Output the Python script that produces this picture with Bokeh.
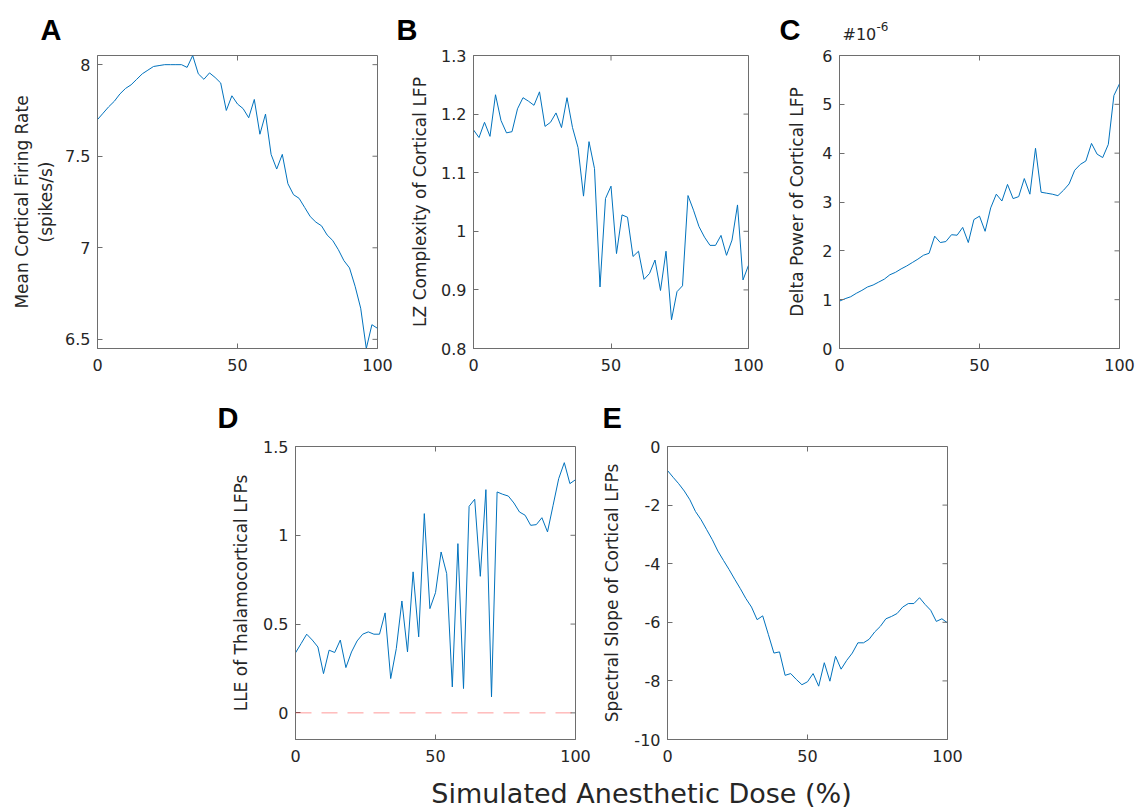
import math
from bokeh.plotting import figure
from bokeh.layouts import column, row
from bokeh.models import Range1d, FixedTicker, Label, CustomJSTickFormatter, Span
from bokeh.embed import file_html
from bokeh.resources import INLINE

# ---------------- data ----------------
dose = [0, 2, 4, 6, 8, 10, 12, 14, 16, 18, 20, 22, 24, 26, 28, 30, 32, 34, 36, 38,
        40, 42, 44, 46, 48, 50, 52, 54, 56, 58, 60, 62, 64, 66, 68, 70, 72, 74, 76, 78,
        80, 82, 84, 86, 88, 90, 92, 94, 96, 98, 100]

firing_rate = [7.70, 7.735, 7.77, 7.80, 7.84, 7.87, 7.89, 7.92, 7.95, 7.97,
               7.99, 7.995, 8.00, 8.00, 8.00, 8.00, 7.985, 8.05, 7.95, 7.92,
               7.955, 7.93, 7.90, 7.75, 7.83, 7.785, 7.76, 7.71, 7.81, 7.62,
               7.73, 7.51, 7.43, 7.51, 7.35, 7.29, 7.27, 7.22, 7.17, 7.14,
               7.12, 7.07, 7.04, 6.99, 6.93, 6.89, 6.79, 6.67, 6.45, 6.58, 6.56]

lz_complexity = [1.173, 1.160, 1.186, 1.162, 1.233, 1.189, 1.168, 1.170, 1.209, 1.228,
                 1.222, 1.215, 1.238, 1.179, 1.186, 1.202, 1.177, 1.228, 1.177, 1.143,
                 1.060, 1.153, 1.107, 0.905, 1.056, 1.077, 0.962, 1.028, 1.024, 0.957,
                 0.966, 0.918, 0.928, 0.951, 0.899, 0.966, 0.849, 0.897, 0.907, 1.061,
                 1.036, 1.008, 0.990, 0.976, 0.976, 0.993, 0.959, 0.985, 1.045, 0.917,
                 0.942, 0.888]

delta_power_e6 = [0.97, 1.02, 1.06, 1.13, 1.19, 1.26, 1.30, 1.36, 1.42, 1.51,
                  1.56, 1.63, 1.69, 1.76, 1.83, 1.91, 1.95, 2.30, 2.17, 2.19,
                  2.33, 2.32, 2.48, 2.17, 2.64, 2.71, 2.40, 2.88, 3.16, 3.02,
                  3.36, 3.07, 3.11, 3.48, 3.16, 4.10, 3.20, 3.18, 3.16, 3.13,
                  3.24, 3.37, 3.65, 3.77, 3.84, 4.20, 3.98, 3.91, 4.18, 5.18, 5.42]

lle = [0.338, 0.39, 0.443, 0.41, 0.371, 0.221, 0.353, 0.34, 0.41, 0.255,
       0.343, 0.405, 0.443, 0.456, 0.443, 0.443, 0.563, 0.193, 0.362, 0.63,
       0.343, 0.794, 0.428, 1.122, 0.587, 0.677, 0.906, 0.784, 0.146, 0.953,
       0.137, 1.163, 1.203, 0.769, 1.257, 0.09, 1.244, 1.231, 1.221, 1.182,
       1.131, 1.113, 1.056, 1.06, 1.099, 1.019, 1.169, 1.319, 1.409, 1.291, 1.313]

spectral_slope = [-0.82, -1.05, -1.27, -1.52, -1.82, -2.22, -2.50, -2.84, -3.18, -3.57,
                  -3.89, -4.20, -4.53, -4.85, -5.19, -5.48, -5.91, -5.78, -6.41, -7.05,
                  -7.01, -7.81, -7.75, -7.95, -8.13, -8.03, -7.75, -8.18, -7.38, -8.01,
                  -7.16, -7.60, -7.30, -7.05, -6.70, -6.70, -6.58, -6.33, -6.14, -5.88,
                  -5.80, -5.70, -5.48, -5.36, -5.36, -5.16, -5.39, -5.59, -5.97, -5.88, -6.02]

x_ticks = [0, 50, 100]
ticks_a = [6.5, 7, 7.5, 8]
ticks_b = [0.8, 0.9, 1.0, 1.1, 1.2, 1.3]
ticks_c = [0, 1, 2, 3, 4, 5, 6]
ticks_d = [0, 0.5, 1, 1.5]
ticks_e = [-10, -8, -6, -4, -2, 0]
lle_threshold = 0

# ---------------- style ----------------
LINE = "#0072BD"
FRAME = "#6e6e6e"
TXT = "#262626"
FONT = "DejaVu Sans"
LETTER_FONT = "Liberation Sans"
FMT = "return (Math.round(tick*1000)/1000).toString();"
TICK_LEN = 5


def style_axis(ax, ticks, standoff):
    ax.ticker = FixedTicker(ticks=ticks)
    ax.formatter = CustomJSTickFormatter(code=FMT)
    ax.axis_line_color = FRAME
    ax.major_tick_line_color = FRAME
    ax.major_tick_in = TICK_LEN
    ax.major_tick_out = 0
    ax.minor_tick_line_color = None
    ax.major_label_text_font = FONT
    ax.major_label_text_font_size = "16px"
    ax.major_label_text_color = TXT
    ax.major_label_standoff = standoff


def panel(values, y_start, y_end, y_ticks, y_label,
          width, left, right, height, top, bottom, label_standoff):
    p = figure(width=width, height=height,
               min_border_left=left, min_border_right=right,
               min_border_top=top, min_border_bottom=bottom,
               x_range=Range1d(0, 100), y_range=Range1d(y_start, y_end),
               output_backend="svg", toolbar_location=None, tools="")
    p.line(dose, values, line_color=LINE, line_width=1)
    p.xgrid.visible = False
    p.ygrid.visible = False
    p.outline_line_color = FRAME
    style_axis(p.xaxis[0], x_ticks, 10)
    style_axis(p.yaxis[0], y_ticks, 7)
    p.yaxis.axis_label = y_label
    p.yaxis.axis_label_text_font = FONT
    p.yaxis.axis_label_text_font_size = "17px"
    p.yaxis.axis_label_text_font_style = "normal"
    p.yaxis.axis_label_text_color = TXT
    p.yaxis.axis_label_standoff = label_standoff
    # mirrored inward ticks on the top and right edges of the box
    p.ray(x=x_ticks, y=[y_end] * len(x_ticks), length=TICK_LEN, length_units="screen",
          angle=-math.pi / 2, line_color=FRAME, line_width=1)
    p.ray(x=[100] * len(y_ticks), y=y_ticks, length=TICK_LEN, length_units="screen",
          angle=math.pi, line_color=FRAME, line_width=1)
    return p


def strip(height, items):
    # blank canvas whose y data runs downward from its top edge
    s = figure(width=1136, height=height, x_range=Range1d(0, 1136), y_range=Range1d(height, 0),
               min_border=0, toolbar_location=None, tools="", output_backend="svg",
               x_axis_location=None, y_axis_location=None, outline_line_color=None)
    s.xgrid.visible = False
    s.ygrid.visible = False
    for text, x, y, font, size, style, align in items:
        s.add_layout(Label(x=x, y=y, text=text, text_font=font, text_font_size=size,
                           text_font_style=style, text_color="black" if style == "bold" else TXT,
                           text_align=align, text_baseline="middle"))
    return s


TOP_H, TOP_T, TOP_B = 350, 10, 47
BOT_H, BOT_T, BOT_B = 336, 10, 33

pa = panel(firing_rate, min(firing_rate), max(firing_rate), ticks_a,
           "Mean Cortical Firing Rate\n(spikes/s)",
           407, 97, 30, TOP_H, TOP_T, TOP_B, 6)
pb = panel(lz_complexity, 0.8, 1.3, ticks_b, "LZ Complexity of Cortical LFP",
           371, 61, 30, TOP_H, TOP_T, TOP_B, 8)
pc = panel(delta_power_e6, 0, 6, ticks_c, "Delta Power of Cortical LFP",
           358, 61, 17, TOP_H, TOP_T, TOP_B, 12)

pd = panel(lle, -0.15, 1.5, ticks_d, "LLE of Thalamocortical LFPs",
           595, 295, 20, BOT_H, BOT_T, BOT_B, 9)
pd.add_layout(Span(location=lle_threshold, dimension="width", line_color="red",
                   line_alpha=0.4, line_dash="16 10", line_width=1))
pe = panel(spectral_slope, -10, 0, ticks_e, "Spectral Slope of Cortical LFPs",
           372, 72, 20, BOT_H, BOT_T, BOT_B, 9)

top_strip = strip(45, [
    ("A", 40, 29, LETTER_FONT, "29px", "bold", "left"),
    ("B", 396, 29, LETTER_FONT, "29px", "bold", "left"),
    ("C", 779, 29, LETTER_FONT, "29px", "bold", "left"),
    ("#10", 842, 34, FONT, "16px", "normal", "left"),
    ("-6", 876, 26, FONT, "12px", "normal", "left"),
])
mid_strip = strip(41, [
    ("D", 217, 22, LETTER_FONT, "29px", "bold", "left"),
    ("E", 602, 22, LETTER_FONT, "29px", "bold", "left"),
])
bottom_strip = strip(36, [
    ("Simulated Anesthetic Dose (%)", 641, 21, FONT, "27px", "normal", "center"),
])

layout = column(top_strip, row(pa, pb, pc), mid_strip, row(pd, pe), bottom_strip)

open("out.html", "w").write(file_html(layout, INLINE))
